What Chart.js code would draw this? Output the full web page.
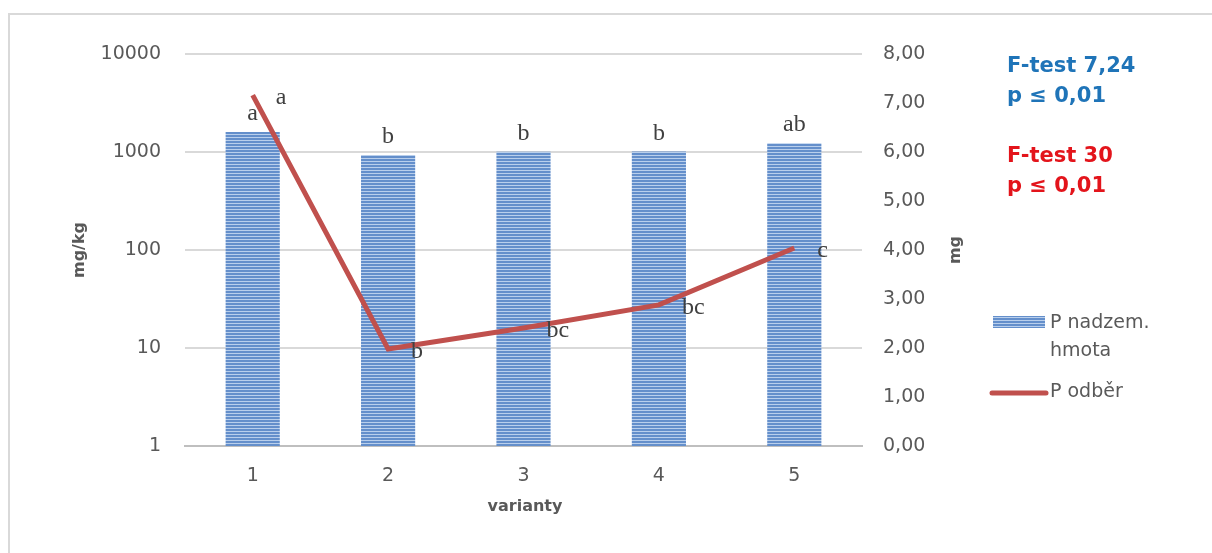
<!DOCTYPE html>
<html>
<head>
<meta charset="utf-8">
<script src="https://cdn.jsdelivr.net/npm/chart.js@4/dist/chart.umd.min.js"></script>
<style>
  html, body { margin: 0; padding: 0; background: #fff; }
  #wrap { width: 1212px; height: 553px; position: relative; }
</style>
</head>
<body>
<div id="wrap"><canvas id="pChart"></canvas></div>
<script>
// data
const categories = ['1', '2', '3', '4', '5'];
const barValues = [1600, 930, 1005, 1010, 1225];      // P nadzem. hmota (mg/kg, log axis)
const lineValues = [7.16, 1.98, 2.41, 2.88, 4.04];    // P odběr (mg)
const barLetters = ['a', 'b', 'b', 'b', 'ab'];
const lineLetters = ['a', 'b', 'bc', 'bc', 'c'];
const leftTicks = [1, 10, 100, 1000, 10000];
const barLabel = 'P nadzem. hmota';
const lineLabel = 'P odběr';
const statsBlue = ['F-test 7,24', 'p ≤ 0,01'];
const statsRed = ['F-test 30', 'p ≤ 0,01'];

const tickColor = '#595959';
const gridColor = '#d9d9d9';
const lineColor = '#c0504d';

// striped fill for the bars
function makeStripes(ctx) {
    let c = document.createElement('canvas');
    c.width = 4; c.height = 3;
    let p = c.getContext('2d');
    p.fillStyle = '#648fcb';
    p.fillRect(0, 0, 4, 3);
    p.fillStyle = '#b9cfec';
    p.fillRect(0, 2, 4, 1);
    return ctx.createPattern(c, 'repeat');
}

let ctx = document.getElementById('pChart').getContext('2d');
const stripes = makeStripes(ctx);

const extras = {
    id: 'extras',
    beforeDraw(chart) {
        let c = chart.ctx;
        c.save();
        c.strokeStyle = gridColor;
        c.lineWidth = 2;
        c.strokeRect(9, 14, 1300, 700);
        c.restore();
    },
    afterDatasetsDraw(chart) {
        let c = chart.ctx;
        c.save();
        // significance letters
        c.font = '24px "Liberation Serif"';
        c.fillStyle = '#404040';
        c.textAlign = 'center';
        c.textBaseline = 'alphabetic';
        chart.getDatasetMeta(1).data.forEach((bar, i) => {
            c.fillText(barLetters[i], bar.x, bar.y - 12);
        });
        c.textAlign = 'left';
        c.textBaseline = 'middle';
        chart.getDatasetMeta(0).data.forEach((pt, i) => {
            c.fillText(lineLetters[i], pt.x + 23, pt.y + 3);
        });

        // axis titles
        c.fillStyle = tickColor;
        c.font = 'bold 16px "DejaVu Sans"';
        c.textAlign = 'center';
        c.textBaseline = 'middle';
        c.fillText('varianty', 525, 507);
        c.save();
        c.translate(80, 250);
        c.rotate(-Math.PI / 2);
        c.fillText('mg/kg', 0, 0);
        c.restore();
        c.save();
        c.translate(956, 250);
        c.rotate(-Math.PI / 2);
        c.fillText('mg', 0, 0);
        c.restore();

        // legend
        c.fillStyle = stripes;
        c.fillRect(993, 316, 52, 12);
        c.strokeStyle = lineColor;
        c.lineWidth = 5;
        c.lineCap = 'round';
        c.beginPath();
        c.moveTo(992, 393);
        c.lineTo(1046, 393);
        c.stroke();
        c.fillStyle = tickColor;
        c.font = '19px "DejaVu Sans"';
        c.textAlign = 'left';
        let words = barLabel.split(' ');
        c.fillText(words.slice(0, 2).join(' '), 1050, 323);
        c.fillText(words.slice(2).join(' '), 1050, 351);
        c.fillText(lineLabel, 1050, 392);

        // test results
        c.font = 'bold 21px "DejaVu Sans"';
        c.fillStyle = '#1f74b8';
        c.fillText(statsBlue[0], 1007, 67);
        c.fillText(statsBlue[1], 1007, 97);
        c.fillStyle = '#e3141b';
        c.fillText(statsRed[0], 1007, 157);
        c.fillText(statsRed[1], 1007, 187);
        c.restore();
    }
};

const pChart = new Chart(ctx, {
    data: {
        labels: categories,
        datasets: [{
            type: 'line',
            label: lineLabel,
            data: lineValues,
            yAxisID: 'y1',
            borderColor: lineColor,
            borderWidth: 5,
            pointRadius: 0,
            tension: 0,
            order: 1
        }, {
            type: 'bar',
            label: barLabel,
            data: barValues,
            yAxisID: 'y',
            backgroundColor: stripes,
            categoryPercentage: 0.8,
            barPercentage: 0.5,
            order: 2
        }]
    },
    plugins: [extras],
    options: {
        responsive: true,
        maintainAspectRatio: false,
        animation: false,
        layout: { padding: { top: 54, left: 0, right: 0, bottom: 0 } },
        plugins: {
            legend: { display: false },
            tooltip: { enabled: false }
        },
        scales: {
            x: {
                grid: { display: false },
                border: { display: true, color: '#bfbfbf', width: 2 },
                ticks: { color: tickColor, padding: 11, font: { family: 'DejaVu Sans', size: 19 } },
                afterFit: s => { s.height = 553 - 446; }
            },
            y: {
                type: 'logarithmic',
                position: 'left',
                min: 1,
                max: 10000,
                afterBuildTicks: s => { s.ticks = leftTicks.map(v => ({ value: v })); },
                grid: { color: gridColor, lineWidth: 2, drawTicks: false },
                border: { display: false },
                ticks: {
                    color: tickColor,
                    padding: 24,
                    font: { family: 'DejaVu Sans', size: 19 },
                    callback: v => String(v)
                },
                afterFit: s => { s.width = 185; }
            },
            y1: {
                position: 'right',
                min: 0,
                max: 8,
                grid: { display: false, drawTicks: false },
                border: { display: false },
                ticks: {
                    stepSize: 1,
                    color: tickColor,
                    padding: 21,
                    font: { family: 'DejaVu Sans', size: 19 },
                    callback: v => v.toFixed(2).replace('.', ',')
                },
                afterFit: s => { s.width = 1212 - 862; }
            }
        }
    }
});
</script>
</body>
</html>
